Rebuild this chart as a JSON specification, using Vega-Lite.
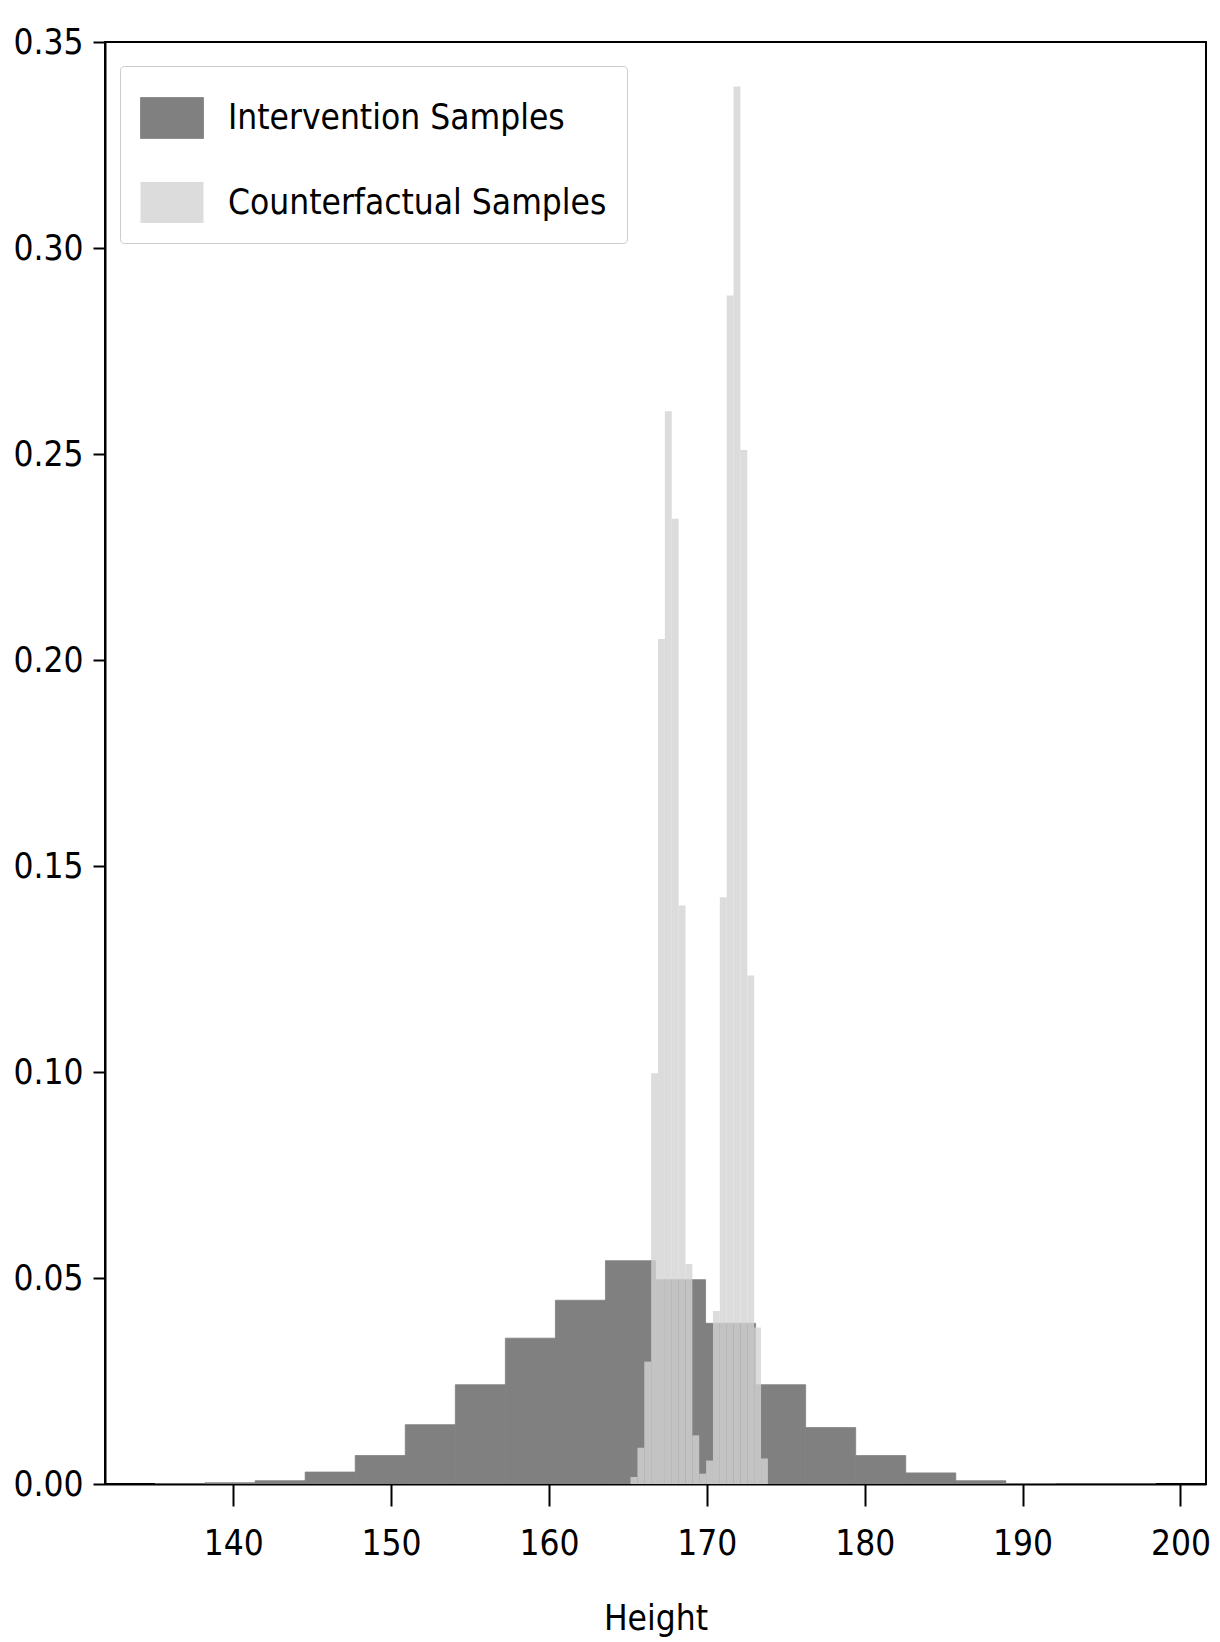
{
  "$schema": "https://vega.github.io/schema/vega-lite/v6.json",
  "width": 1101,
  "height": 1442,
  "autosize": {"type": "none"},
  "padding": {"left": 105, "top": 42, "right": 14, "bottom": 158},
  "background": "white",
  "config": {
    "view": {"stroke": "black", "strokeWidth": 2},
    "font": "DejaVu Sans Condensed, DejaVu Sans",
    "axis": {
      "grid": false,
      "domainColor": "black",
      "domainWidth": 2,
      "tickColor": "black",
      "tickWidth": 2,
      "labelColor": "black",
      "labelFont": "DejaVu Sans Condensed, DejaVu Sans",
      "labelFontSize": 35,
      "titleFont": "DejaVu Sans Condensed, DejaVu Sans",
      "titleFontSize": 35,
      "titleFontWeight": "normal",
      "titleColor": "black"
    }
  },
  "data": {
    "values": [
      {"series": "Intervention Samples", "start": 135.05, "end": 138.22, "density": 0.00005},
      {"series": "Intervention Samples", "start": 138.22, "end": 141.39, "density": 0.0003},
      {"series": "Intervention Samples", "start": 141.39, "end": 144.56, "density": 0.0008},
      {"series": "Intervention Samples", "start": 144.56, "end": 147.73, "density": 0.0029},
      {"series": "Intervention Samples", "start": 147.73, "end": 150.90, "density": 0.0069},
      {"series": "Intervention Samples", "start": 150.90, "end": 154.07, "density": 0.0144},
      {"series": "Intervention Samples", "start": 154.07, "end": 157.24, "density": 0.0241},
      {"series": "Intervention Samples", "start": 157.24, "end": 160.41, "density": 0.0354},
      {"series": "Intervention Samples", "start": 160.41, "end": 163.58, "density": 0.0446},
      {"series": "Intervention Samples", "start": 163.58, "end": 166.75, "density": 0.0542},
      {"series": "Intervention Samples", "start": 166.75, "end": 169.92, "density": 0.0496},
      {"series": "Intervention Samples", "start": 169.92, "end": 173.09, "density": 0.039},
      {"series": "Intervention Samples", "start": 173.09, "end": 176.26, "density": 0.0241},
      {"series": "Intervention Samples", "start": 176.26, "end": 179.43, "density": 0.0137},
      {"series": "Intervention Samples", "start": 179.43, "end": 182.60, "density": 0.0069},
      {"series": "Intervention Samples", "start": 182.60, "end": 185.77, "density": 0.0027},
      {"series": "Intervention Samples", "start": 185.77, "end": 188.94, "density": 0.0008},
      {"series": "Intervention Samples", "start": 188.94, "end": 192.11, "density": 0.0001},
      {"series": "Intervention Samples", "start": 192.11, "end": 195.28, "density": 0.00003},
      {"series": "Intervention Samples", "start": 195.28, "end": 198.45, "density": 0.00003},
      {"series": "Counterfactual Samples", "start": 165.170, "end": 165.605, "density": 0.0017},
      {"series": "Counterfactual Samples", "start": 165.605, "end": 166.040, "density": 0.0088},
      {"series": "Counterfactual Samples", "start": 166.040, "end": 166.475, "density": 0.0297},
      {"series": "Counterfactual Samples", "start": 166.475, "end": 166.910, "density": 0.0997},
      {"series": "Counterfactual Samples", "start": 166.910, "end": 167.345, "density": 0.2051},
      {"series": "Counterfactual Samples", "start": 167.345, "end": 167.780, "density": 0.2604},
      {"series": "Counterfactual Samples", "start": 167.780, "end": 168.215, "density": 0.2343},
      {"series": "Counterfactual Samples", "start": 168.215, "end": 168.650, "density": 0.1404},
      {"series": "Counterfactual Samples", "start": 168.650, "end": 169.085, "density": 0.0534},
      {"series": "Counterfactual Samples", "start": 169.085, "end": 169.520, "density": 0.0118},
      {"series": "Counterfactual Samples", "start": 169.520, "end": 169.955, "density": 0.0025},
      {"series": "Counterfactual Samples", "start": 169.955, "end": 170.390, "density": 0.0057},
      {"series": "Counterfactual Samples", "start": 170.390, "end": 170.825, "density": 0.042},
      {"series": "Counterfactual Samples", "start": 170.825, "end": 171.260, "density": 0.1424},
      {"series": "Counterfactual Samples", "start": 171.260, "end": 171.695, "density": 0.2885},
      {"series": "Counterfactual Samples", "start": 171.695, "end": 172.130, "density": 0.3392},
      {"series": "Counterfactual Samples", "start": 172.130, "end": 172.565, "density": 0.251},
      {"series": "Counterfactual Samples", "start": 172.565, "end": 173.000, "density": 0.1234},
      {"series": "Counterfactual Samples", "start": 173.000, "end": 173.435, "density": 0.038},
      {"series": "Counterfactual Samples", "start": 173.435, "end": 173.870, "density": 0.0062}
    ]
  },
  "mark": {"type": "bar", "clip": true, "stroke": "#808080"},
  "encoding": {
    "x": {
      "field": "start",
      "type": "quantitative",
      "scale": {"domain": [131.88, 201.62], "nice": false, "zero": false},
      "axis": {
        "title": "Height",
        "values": [140, 150, 160, 170, 180, 190, 200],
        "format": "d",
        "tickSize": 22,
        "labelPadding": 20,
        "titlePadding": 40,
        "labelFlush": false
      }
    },
    "x2": {"field": "end"},
    "y": {
      "field": "density",
      "type": "quantitative",
      "scale": {"domain": [0, 0.35], "nice": false},
      "axis": {
        "title": null,
        "values": [0, 0.05, 0.1, 0.15, 0.2, 0.25, 0.3, 0.35],
        "format": ".2f",
        "tickSize": 12,
        "labelPadding": 10,
        "labelFlush": false
      }
    },
    "y2": {"datum": 0},
    "strokeWidth": {
      "field": "series",
      "type": "nominal",
      "scale": {
        "domain": ["Intervention Samples", "Counterfactual Samples"],
        "range": [0.8, 0]
      },
      "legend": null
    },
    "color": {
      "field": "series",
      "type": "nominal",
      "scale": {
        "domain": ["Intervention Samples", "Counterfactual Samples"],
        "range": ["#808080", "#d3d3d3"]
      },
      "legend": {
        "title": null,
        "orient": "none",
        "legendX": 15,
        "legendY": 24,
        "symbolType": "M-1,-0.65H1V0.65H-1Z",
        "symbolSize": 3969,
        "symbolStrokeWidth": 0,
        "labelFontSize": 35,
        "labelFont": "DejaVu Sans Condensed, DejaVu Sans",
        "labelColor": "black",
        "labelOffset": 24,
        "labelLimit": 1000,
        "rowPadding": 30,
        "padding": 20,
        "strokeColor": "#cccccc",
        "fillColor": "white",
        "cornerRadius": 4
      }
    },
    "opacity": {
      "field": "series",
      "type": "nominal",
      "scale": {
        "domain": ["Intervention Samples", "Counterfactual Samples"],
        "range": [1, 0.8]
      }
    }
  }
}
